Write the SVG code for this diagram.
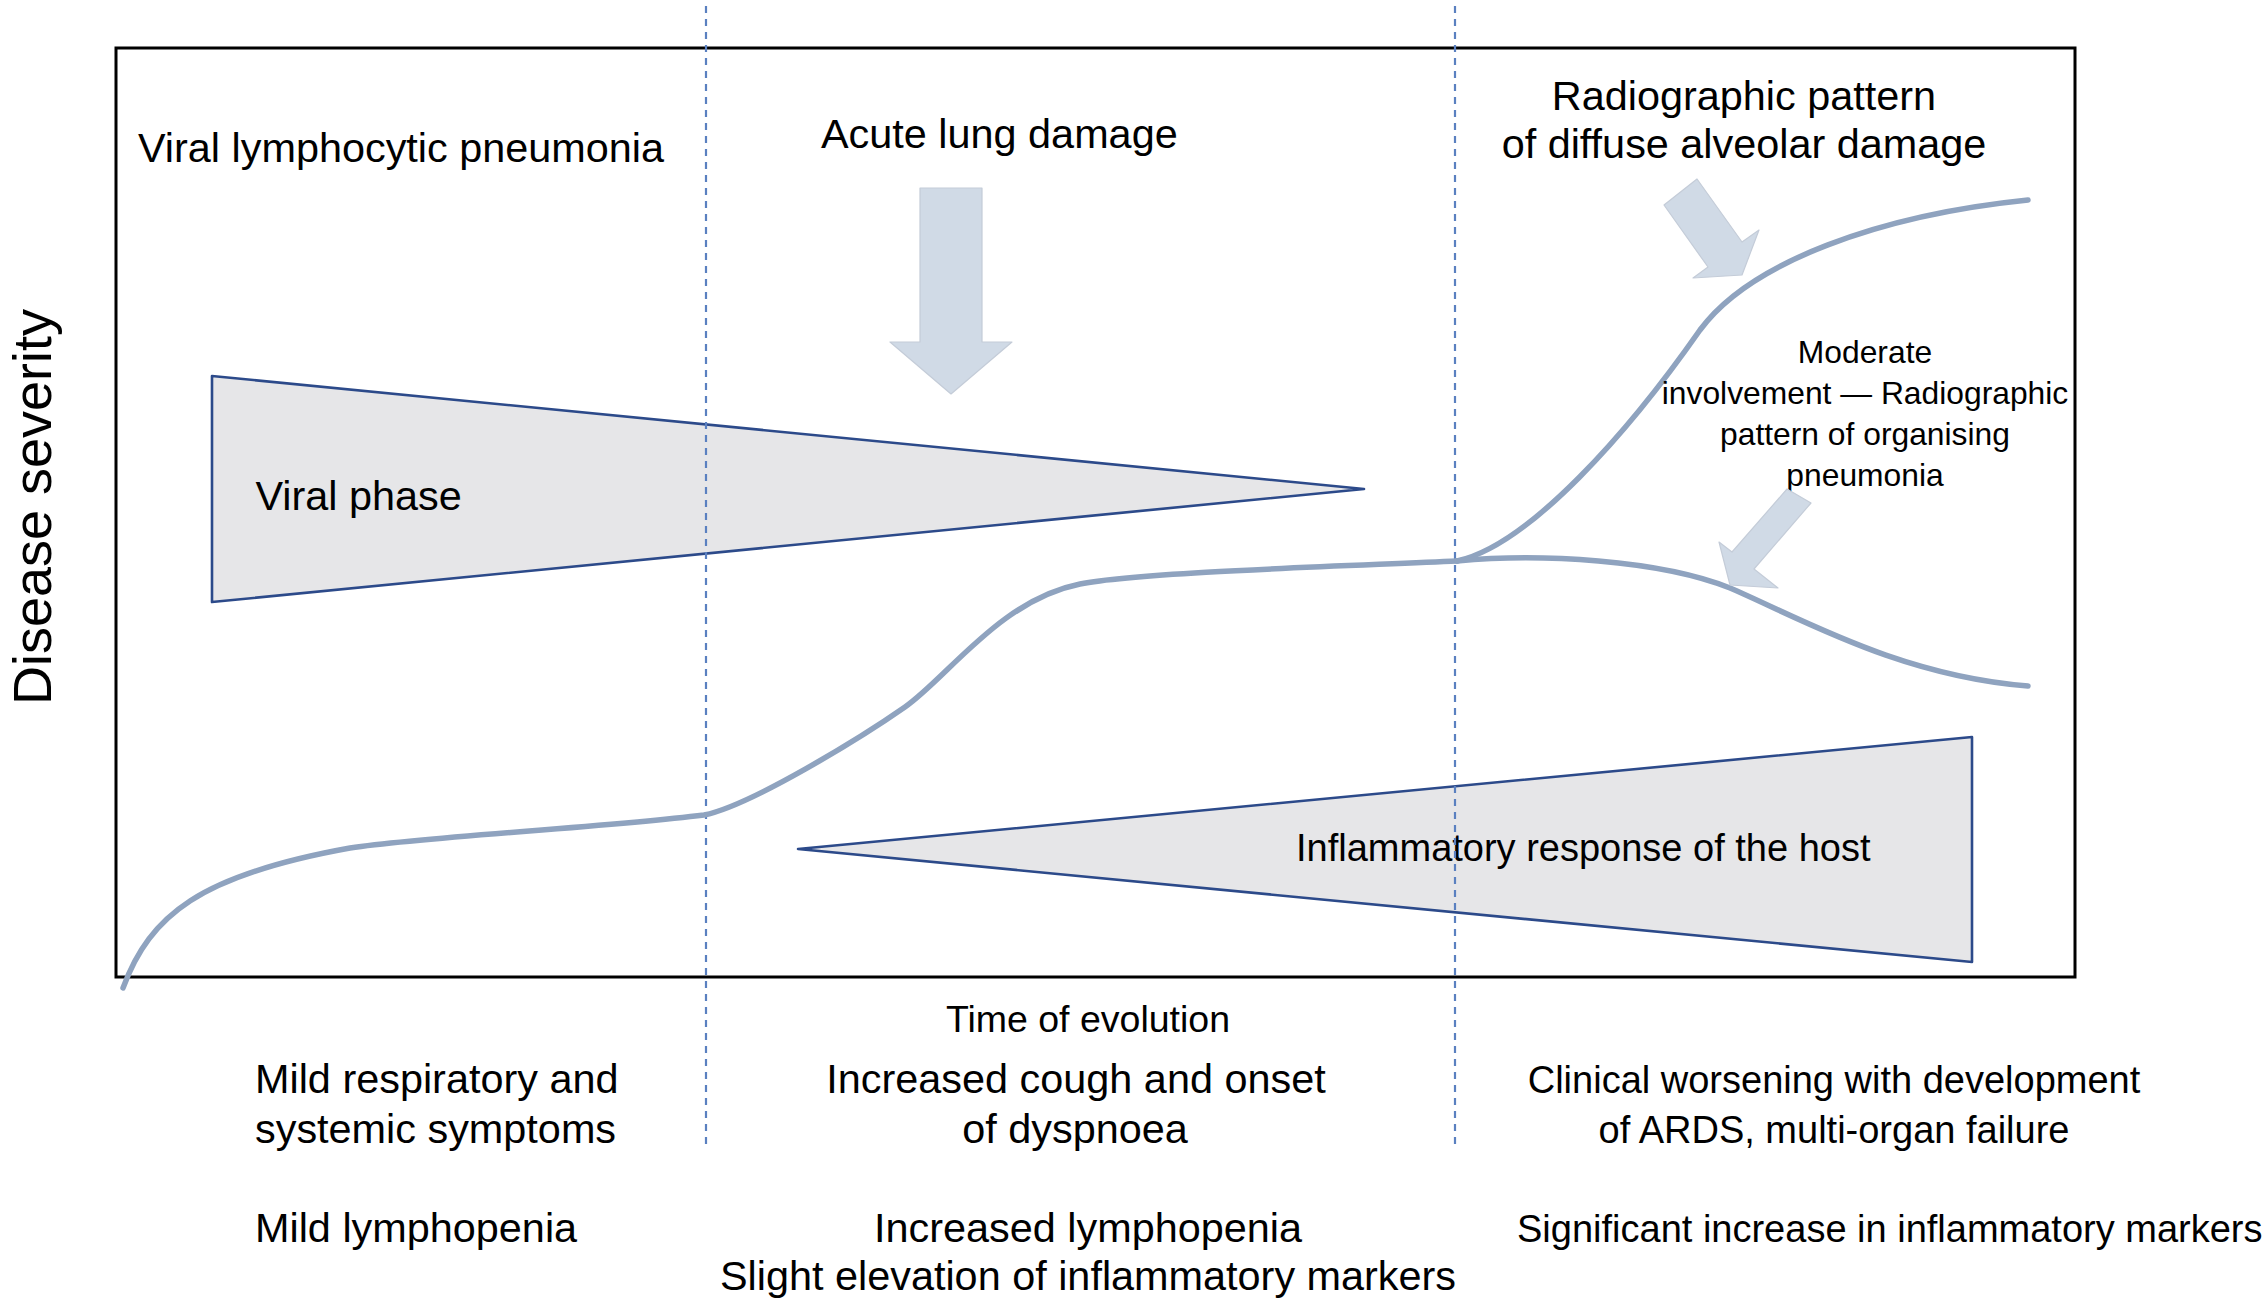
<svg xmlns="http://www.w3.org/2000/svg" width="2262" height="1301" viewBox="0 0 2262 1301">
<style>
text{font-family:"Liberation Sans",Arial,Helvetica,sans-serif;fill:#000}
.t41{font-size:41.4px}
.t38{font-size:38px}
.t32{font-size:31.8px}
.mid{text-anchor:middle}
.tri{fill:#e6e6e8;stroke:#2c4a8a;stroke-width:2.6;stroke-linejoin:round}
.arrow{fill:#d0dae6;stroke:#c4ccd8;stroke-width:1.2;stroke-linejoin:round}
.curve{fill:none;stroke:#8fa3bf;stroke-width:5.5;stroke-linecap:round;stroke-linejoin:round}
.dash{stroke:#5a80c0;stroke-width:2.2;stroke-dasharray:7 6;fill:none}
.frame{fill:none;stroke:#000;stroke-width:3}
</style>
<rect width="2262" height="1301" fill="#fff"/>

<g id="plot-frame">
<rect class="frame" x="116" y="48" width="1959" height="929"/>
</g>

<g id="viral-phase">
<polygon class="tri" points="212,376 1364,489 212,602"/>
<text class="t41" x="255.5" y="510">Viral phase</text>
</g>

<g id="inflammatory-response">
<polygon class="tri" points="798,849 1972,737 1972,962"/>
<text class="t38" x="1296" y="861">Inflammatory response of the host</text>
</g>

<g id="phase-dividers">
<line class="dash" x1="706" y1="6" x2="706" y2="1145"/>
<line class="dash" x1="1455" y1="6" x2="1455" y2="1145"/>
</g>

<g id="connectors">
<path class="curve" d="M123,988 C150,915 200,875 350,848 C430,836 600,828 704,815 C750,806 862,737 905,707 C948,677 1000,600 1080,584 C1140,572 1350,566 1457,561"/>
<path class="curve" d="M1457,561 C1530,545 1630,430 1700,330 C1750,262 1880,215 2028,200"/>
<path class="curve" d="M1457,561 C1540,553 1660,560 1730,588 C1800,618 1900,676 2028,686"/>
</g>

<g id="acute-lung-damage">
<text class="t41" x="821" y="148">Acute lung damage</text>
<polygon class="arrow" points="920,188 982,188 982,342 1012,342 951,394 890,342 920,342"/>
</g>

<g id="diffuse-alveolar-damage">
<text class="t41 mid" x="1744" y="110">Radiographic pattern</text>
<text class="t41 mid" x="1744" y="158">of diffuse alveolar damage</text>
<polygon class="arrow" points="1697,179 1664,205 1708,267 1693,278 1742,275 1759,230 1742,242"/>
</g>

<g id="organising-pneumonia">
<text class="t32 mid" x="1865" y="363">Moderate</text>
<text class="t32 mid" x="1865" y="404">involvement — Radiographic</text>
<text class="t32 mid" x="1865" y="445">pattern of organising</text>
<text class="t32 mid" x="1865" y="486">pneumonia</text>
<polygon class="arrow" points="1787,489 1811,503 1754,569 1778,588 1730,585 1719,542 1732,552"/>
</g>

<g id="phase-label">
<text class="t41" x="138" y="162">Viral lymphocytic pneumonia</text>
</g>

<g id="y-axis-label">
<text x="51" y="507" font-size="54" text-anchor="middle" transform="rotate(-90 51 507)">Disease severity</text>
</g>

<g id="x-axis-label">
<text class="mid" x="1088" y="1032" font-size="37.5">Time of evolution</text>
</g>

<g id="stage-1">
<text class="t41" x="255" y="1093">Mild respiratory and</text>
<text class="t41" x="255" y="1142.5">systemic symptoms</text>
<text class="t41" x="255" y="1242">Mild lymphopenia</text>
</g>

<g id="stage-2">
<text class="t41 mid" x="1076" y="1093">Increased cough and onset</text>
<text class="t41 mid" x="1075" y="1142.5">of dyspnoea</text>
<text class="t41 mid" x="1088" y="1242">Increased lymphopenia</text>
<text class="t41 mid" x="1088" y="1290">Slight elevation of inflammatory markers</text>
</g>

<g id="stage-3">
<text class="t38 mid" x="1834" y="1093">Clinical worsening with development</text>
<text class="t38 mid" x="1834" y="1142.5">of ARDS, multi-organ failure</text>
<text class="t38" x="1517" y="1242">Significant increase in inflammatory markers</text>
</g>
</svg>
